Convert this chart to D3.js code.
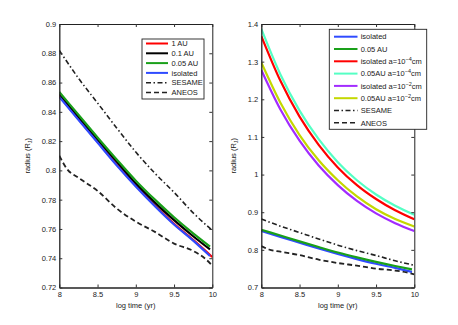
<!DOCTYPE html>
<html><head><meta charset="utf-8">
<script src="https://cdn.jsdelivr.net/npm/d3@7"></script>
<style>
html,body{margin:0;padding:0;background:#fff;}
text{font-family:"Liberation Sans",Arial,sans-serif;fill:#1a1a1a;}
</style></head>
<body><svg id="c" width="458" height="325"></svg>
<script>
// ---- data ----
const timeEvo = [8, 8.25, 8.5, 8.75, 9, 9.25, 9.5, 9.75, 9.97];
const radius1AU   = [0.8508, 0.835, 0.8195, 0.804, 0.7895, 0.776, 0.7635, 0.7525, 0.7415];
const radius01AU  = [0.852, 0.8365, 0.821, 0.806, 0.791, 0.778, 0.766, 0.755, 0.746];
const radius005AU = [0.8535, 0.838, 0.8225, 0.8075, 0.793, 0.780, 0.768, 0.757, 0.748];
const radiusIso   = [0.8502, 0.8345, 0.819, 0.8035, 0.789, 0.7755, 0.763, 0.752, 0.7415];

const timeSesame = [8, 8.25, 8.5, 8.75, 9, 9.25, 9.5, 9.75, 10];
const radiusSesame = [0.882, 0.863, 0.846, 0.829, 0.8125, 0.798, 0.785, 0.771, 0.759];
const timeAneos = [8, 8.1, 8.25, 8.5, 8.75, 9, 9.25, 9.5, 9.75, 9.9, 10];
const radiusAneos = [0.810, 0.801, 0.795, 0.786, 0.774, 0.765, 0.758, 0.750, 0.745, 0.740, 0.735];

const timeDust = [8, 8.25, 8.5, 8.75, 9, 9.25, 9.5, 9.75, 10];
const radiusIsoA4   = [1.368, 1.249, 1.154, 1.079, 1.019, 0.972, 0.935, 0.905, 0.881];
const radius005A4   = [1.387, 1.266, 1.170, 1.094, 1.033, 0.985, 0.947, 0.917, 0.893];
const radiusIsoA2   = [1.278, 1.173, 1.090, 1.024, 0.972, 0.930, 0.897, 0.871, 0.850];
const radius005A2   = [1.298, 1.191, 1.105, 1.038, 0.985, 0.942, 0.908, 0.882, 0.862];

const xTicks = [8, 8.5, 9, 9.5, 10];
const yTicksLeft = [0.72, 0.74, 0.76, 0.78, 0.8, 0.82, 0.84, 0.86, 0.88, 0.9];
const yTicksRight = [0.7, 0.8, 0.9, 1, 1.1, 1.2, 1.3, 1.4];

const C = {red:"#ff0000", black:"#000000", green:"#1aa01a", blue:"#2f4bff",
           cyan:"#55ffc4", purple:"#a22cff", yellow:"#c4d800", eos:"#222"};

const svg = d3.select("#c");

function panel(x0, x1, yDom, yTicks, yFmt, ylabOff, series, legend, lg) {
  const top = 24, bottom = 287.5;
  const x = d3.scaleLinear().domain([8, 10]).range([x0, x1]);
  const y = d3.scaleLinear().domain(yDom).range([bottom, top]);
  const g = svg.append("g");
  const clipId = "clip" + Math.round(x0);
  svg.append("clipPath").attr("id", clipId).append("rect")
    .attr("x", x0).attr("y", top).attr("width", x1 - x0).attr("height", bottom - top);

  const lineGen = d3.line().x(d => x(d[0])).y(d => y(d[1])).curve(d3.curveMonotoneX);
  const pg = g.append("g").attr("clip-path", `url(#${clipId})`);
  series.forEach(s => {
    pg.append("path").datum(d3.zip(s.t, s.v))
      .attr("d", lineGen).attr("fill", "none")
      .attr("stroke", s.color).attr("stroke-width", s.w)
      .attr("stroke-dasharray", s.dash || null);
  });

  const fs = "7.5px";
  const ax = g.append("g").attr("transform", `translate(0,${bottom})`)
    .call(d3.axisBottom(x).tickValues(xTicks).tickFormat(d3.format("")).tickSize(-3).tickSizeOuter(0).tickPadding(4));
  const ay = g.append("g").attr("transform", `translate(${x0},0)`)
    .call(d3.axisLeft(y).tickValues(yTicks).tickFormat(yFmt).tickSize(-3).tickSizeOuter(0).tickPadding(3));
  const at = g.append("g").attr("transform", `translate(0,${top})`)
    .call(d3.axisTop(x).tickValues(xTicks).tickFormat("").tickSize(-3).tickSizeOuter(0));
  const ar = g.append("g").attr("transform", `translate(${x1},0)`)
    .call(d3.axisRight(y).tickValues(yTicks).tickFormat("").tickSize(-3).tickSizeOuter(0));
  [ax, ay, at, ar].forEach(a => {
    a.selectAll("text").style("font-size", fs)
      .style("font-family", '"Liberation Sans",Arial,sans-serif');
    a.selectAll("line").attr("stroke", "#333");
    a.select(".domain").attr("stroke", "#222").attr("stroke-width", 1);
  });
  ax.select(".domain").attr("stroke-width", 1.3);
  ay.select(".domain").attr("stroke-width", 1.3);

  g.append("text").attr("x", (x0 + x1) / 2).attr("y", 308).attr("text-anchor", "middle")
    .style("font-size", "7.5px").text("log time (yr)");
  const yl = g.append("text").attr("transform", `translate(${x0 - ylabOff},${(top + bottom) / 2}) rotate(-90)`)
    .attr("text-anchor", "middle").style("font-size", "7.5px");
  yl.append("tspan").text("radius (R");
  yl.append("tspan").attr("dy", 2).style("font-size", "5.5px").text("J");
  yl.append("tspan").attr("dy", -2).text(")");

  const lgG = g.append("g");
  lgG.append("rect").attr("x", lg.x).attr("y", lg.y).attr("width", lg.w).attr("height", lg.h)
    .attr("fill", "#fff").attr("stroke", "#222").attr("stroke-width", 0.9);
  legend.forEach((it, i) => {
    const yy = lg.y0 + i * lg.dy;
    lgG.append("line").attr("x1", lg.lx1).attr("x2", lg.lx2).attr("y1", yy).attr("y2", yy)
      .attr("stroke", it.color).attr("stroke-width", it.w).attr("stroke-dasharray", it.dash || null);
    const t = lgG.append("text").attr("x", lg.tx).attr("y", yy + 2.7).style("font-size", "7.5px");
    if (it.sup) {
      t.append("tspan").text(it.label);
      t.append("tspan").attr("dy", -3).style("font-size", "5.5px").text(it.sup);
      t.append("tspan").attr("dy", 3).text("cm");
    } else {
      t.text(it.label);
    }
  });
}

const dashAneos = "5,3";
const dashSesame = "5,2.5,1.5,2.5";

const fmtLeft = d => { const s = d3.format(".2f")(d); return s.endsWith("0") ? s.slice(0, -1) : s; };
const fmtRight = d => (d === 1 ? "1" : d3.format(".1f")(d));

panel(59.3, 212.3, [0.72, 0.9], yTicksLeft, fmtLeft, 29,
  [
    {t: timeSesame, v: radiusSesame, color: C.eos, w: 1.6, dash: dashSesame},
    {t: timeAneos, v: radiusAneos, color: C.eos, w: 1.8, dash: dashAneos},
    {t: timeEvo.slice(0, -1).concat([10]), v: radius1AU.slice(0, -1).concat([0.7408]), color: C.red, w: 2.2},
    {t: timeEvo, v: radius01AU, color: C.black, w: 2.2},
    {t: timeEvo, v: radius005AU, color: C.green, w: 2.2},
    {t: timeEvo, v: radiusIso, color: C.blue, w: 2.2}
  ],
  [
    {label: "1 AU", color: C.red, w: 2},
    {label: "0.1 AU", color: C.black, w: 2},
    {label: "0.05 AU", color: C.green, w: 2},
    {label: "isolated", color: C.blue, w: 2},
    {label: "SESAME", color: C.eos, w: 1.4, dash: dashSesame},
    {label: "ANEOS", color: C.eos, w: 1.6, dash: dashAneos}
  ],
  {x: 142, y: 39, w: 62, h: 60, y0: 43.5, dy: 9.8, lx1: 146, lx2: 168, tx: 171.5}
);

panel(261.3, 414.3, [0.7, 1.4], yTicksRight, fmtRight, 25,
  [
    {t: timeEvo, v: radiusIso, color: C.blue, w: 2.2},
    {t: timeEvo, v: radius005AU, color: C.green, w: 2.2},
    {t: timeDust, v: radiusIsoA4, color: C.red, w: 2.2},
    {t: timeDust, v: radius005A4, color: C.cyan, w: 2.2},
    {t: timeDust, v: radiusIsoA2, color: C.purple, w: 2.2},
    {t: timeDust, v: radius005A2, color: C.yellow, w: 2.2},
    {t: timeSesame, v: radiusSesame, color: C.eos, w: 1.6, dash: dashSesame},
    {t: timeAneos, v: radiusAneos, color: C.eos, w: 1.8, dash: dashAneos}
  ],
  [
    {label: "isolated", color: C.blue, w: 2},
    {label: "0.05 AU", color: C.green, w: 2},
    {label: "isolated a=10", sup: "\u22124", color: C.red, w: 2},
    {label: "0.05AU a=10", sup: "\u22124", color: C.cyan, w: 2},
    {label: "isolated a=10", sup: "\u22122", color: C.purple, w: 2},
    {label: "0.05AU a=10", sup: "\u22122", color: C.yellow, w: 2},
    {label: "SESAME", color: C.eos, w: 1.4, dash: dashSesame},
    {label: "ANEOS", color: C.eos, w: 1.6, dash: dashAneos}
  ],
  {x: 329.3, y: 29.3, w: 97.4, h: 100, y0: 36.7, dy: 12.3, lx1: 334, lx2: 357.5, tx: 360.7}
);
</script></body></html>
